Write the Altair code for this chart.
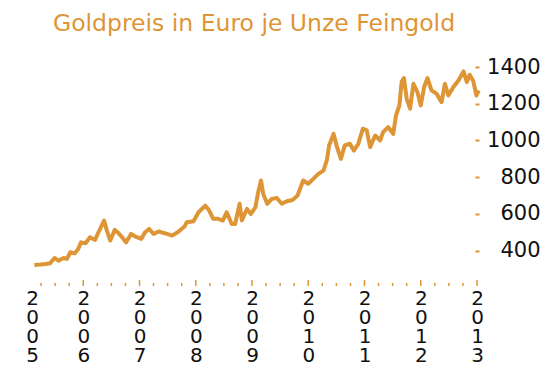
import altair as alt
import pandas as pd

ORANGE = "#DE9536"
FONT = "DejaVu Sans"

# decimal year of each reading
jahr = [
    2005.13, 2005.24, 2005.33, 2005.41, 2005.49, 2005.56, 2005.65, 2005.71, 2005.77, 2005.85,
    2005.91, 2005.96, 2006.04, 2006.12, 2006.21, 2006.27, 2006.37, 2006.42, 2006.48, 2006.56,
    2006.63, 2006.69, 2006.76, 2006.85, 2006.95, 2007.03, 2007.10, 2007.17, 2007.25, 2007.34,
    2007.49, 2007.58, 2007.68, 2007.80, 2007.84, 2007.96, 2008.05, 2008.17, 2008.24, 2008.31,
    2008.40, 2008.48, 2008.55, 2008.64, 2008.70, 2008.78, 2008.82, 2008.91, 2008.98, 2009.06,
    2009.11, 2009.16, 2009.20, 2009.27, 2009.35, 2009.44, 2009.53, 2009.62, 2009.72, 2009.81,
    2009.91, 2010.00, 2010.09, 2010.18, 2010.27, 2010.33, 2010.37, 2010.45, 2010.51, 2010.58,
    2010.65, 2010.74, 2010.81, 2010.89, 2010.97, 2011.04, 2011.10, 2011.19, 2011.28, 2011.33,
    2011.42, 2011.51, 2011.56, 2011.62, 2011.66, 2011.70, 2011.75, 2011.81, 2011.87, 2011.94,
    2012.00, 2012.06, 2012.12, 2012.19, 2012.28, 2012.37, 2012.43, 2012.49, 2012.58, 2012.67,
    2012.76, 2012.82, 2012.87, 2012.93, 2012.99, 2013.03,
]
# gold price in EUR per troy ounce
preis = [
    322, 324, 327, 331, 360, 345, 360, 355, 391, 385,
    409, 445, 440, 473, 458, 500, 564, 509, 455, 513,
    494, 473, 445, 491, 473, 464, 500, 518, 491, 504,
    491, 482, 500, 531, 555, 560, 609, 645, 618, 573,
    573, 564, 609, 545, 545, 655, 564, 627, 600, 636,
    718, 782, 709, 655, 682, 687, 655, 669, 676, 700,
    782, 764, 791, 818, 836, 891, 973, 1036, 965, 900,
    973, 982, 945, 982, 1064, 1055, 964, 1027, 1000, 1045,
    1073, 1036, 1136, 1191, 1318, 1340, 1227, 1173, 1309, 1264,
    1191, 1291, 1340, 1273, 1255, 1209, 1309, 1245, 1291, 1327,
    1376, 1318, 1358, 1327, 1245, 1273,
]

year_ticks = [2006.0, 2007.0, 2008.0, 2009.0, 2010.0, 2011.0, 2012.0, 2013.0]
quarter_ticks = [y + q for y in range(2005, 2013) for q in (0.25, 0.5, 0.75)]
label_pos = [2005.09] + year_ticks
y_ticks = [400, 600, 800, 1000, 1200, 1400]

df = pd.DataFrame({"Jahr": jahr, "Preis": preis})
df_years = pd.DataFrame({"Jahr": year_ticks})
df_quarters = pd.DataFrame({"Jahr": quarter_ticks})

x_scale = alt.Scale(domain=[2005, 2013], nice=False, zero=False)
y_scale = alt.Scale(domain=[240, 1520], nice=False, zero=False)

YEAR = "floor(datum.value)"
digits = ", ".join(f"substring(toString({YEAR}),{i},{i+1})" for i in range(4))
label_expr = f"[{digits}]"

x_axis = alt.Axis(values=label_pos, orient="bottom", domain=False, grid=False, ticks=False,
                  labelFlush=False, labelOverlap=False, labelExpr=label_expr,
                  labelFont=FONT, labelFontSize=20, labelLineHeight=19.3,
                  labelPadding=8, labelColor="#111111", labelBaseline="top",
                  labelAlign="center", title=None)

line = alt.Chart(df).mark_line(color=ORANGE, strokeWidth=4, strokeJoin="round").encode(
    x=alt.X("Jahr:Q", scale=x_scale, axis=x_axis),
    y=alt.Y("Preis:Q", scale=y_scale,
            axis=alt.Axis(values=y_ticks, orient="right", domain=False, grid=False,
                          format="d", tickSize=4, tickColor=ORANGE, tickWidth=2, offset=-2,
                          labelAlign="right", labelBaseline="middle", labelPadding=61,
                          labelFont=FONT, labelFontSize=21, labelColor="#111111",
                          title=None)),
)

# axis tick marks below the plot (year ticks long, quarter ticks short)
year_marks = alt.Chart(df_years).mark_rule(color=ORANGE, strokeWidth=1.5).encode(
    x=alt.X("Jahr:Q", scale=x_scale, axis=x_axis),
    y=alt.datum(240, scale=y_scale),
    y2=alt.datum(207),
)

quarter_marks = alt.Chart(df_quarters).mark_rule(color=ORANGE, strokeWidth=1.5).encode(
    x=alt.X("Jahr:Q", scale=x_scale, axis=x_axis),
    y=alt.datum(224, scale=y_scale),
    y2=alt.datum(207),
)

chart = (
    alt.layer(line, year_marks, quarter_marks)
    .properties(
        width=450,
        height=235,
        title=alt.Title("Goldpreis in Euro je Unze Feingold", font=FONT, fontSize=23.5,
                        fontWeight="normal", color=ORANGE, anchor="middle",
                        offset=10, dx=2),
        padding={"left": 17, "top": 3, "right": 2, "bottom": 2},
    )
    .configure_view(stroke=None)
)

chart.save("out.html", embed_options={"renderer": "svg", "actions": False})
